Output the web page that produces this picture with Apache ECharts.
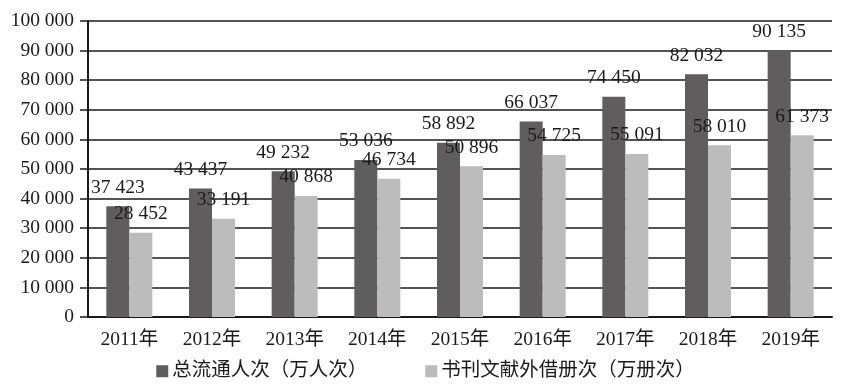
<!DOCTYPE html>
<html>
<head>
<meta charset="utf-8">
<script src="https://cdn.jsdelivr.net/npm/echarts@6/dist/echarts.min.js"></script>
<style>html,body{margin:0;padding:0;background:#fff}#c{width:851px;height:391px}</style>
</head>
<body>
<div id="c"></div>
<script>
const categories = ['2011年','2012年','2013年','2014年','2015年','2016年','2017年','2018年','2019年'];
const circulation = [37423, 43437, 49232, 53036, 58892, 66037, 74450, 82032, 90135];
const loans = [28452, 33191, 40868, 46734, 50896, 54725, 55091, 58010, 61373];
const seriesNames = ['总流通人次（万人次）', '书刊文献外借册次（万册次）'];

const fmt = v => String(v).replace(/\B(?=(\d{3})+(?!\d))/g, ' ');
const FONT = "'Liberation Serif', 'Times New Roman', 'Noto Sans CJK SC', serif";

const chart = echarts.init(document.getElementById('c'));
const labelCfg = {
  show: true, position: 'top', distance: 9,
  formatter: p => fmt(p.value),
  color: '#1a1a1a', fontFamily: FONT, fontSize: 19.5
};
chart.setOption({
  animation: false,
  backgroundColor: '#fff',
  grid: { left: 88, right: 19, top: 21, bottom: 74, containLabel: false },
  legend: {
    bottom: 5, left: 'center',
    itemWidth: 12, itemHeight: 12, itemGap: 58,
    icon: 'rect',
    textStyle: { fontFamily: FONT, fontSize: 19.5, color: '#1a1a1a', padding: [0,0,0,-1] },
    data: seriesNames
  },
  xAxis: {
    type: 'category', data: categories,
    axisLine: { lineStyle: { color: '#1a1a1a', width: 2 } },
    axisTick: { length: 6, lineStyle: { color: '#1a1a1a', width: 2 } },
    axisLabel: { fontFamily: FONT, fontSize: 19.5, color: '#1a1a1a', margin: 13 }
  },
  yAxis: {
    type: 'value', min: 0, max: 100000, interval: 10000,
    axisLine: { show: true, lineStyle: { color: '#1a1a1a', width: 2 } },
    axisTick: { show: true, length: 8, lineStyle: { color: '#1a1a1a', width: 1.5 } },
    axisLabel: { fontFamily: FONT, fontSize: 19.5, color: '#1a1a1a', margin: 14, formatter: v => fmt(v) },
    splitLine: { lineStyle: { color: '#1a1a1a', width: 1.6 } }
  },
  series: [
    { name: seriesNames[0], type: 'bar', data: circulation, barWidth: 23, barGap: '0%',
      itemStyle: { color: '#5f5d5e' }, label: labelCfg },
    { name: seriesNames[1], type: 'bar', data: loans, barWidth: 23, barGap: '0%',
      itemStyle: { color: '#bdbcbd' }, label: labelCfg }
  ]
});
</script>
</body>
</html>
